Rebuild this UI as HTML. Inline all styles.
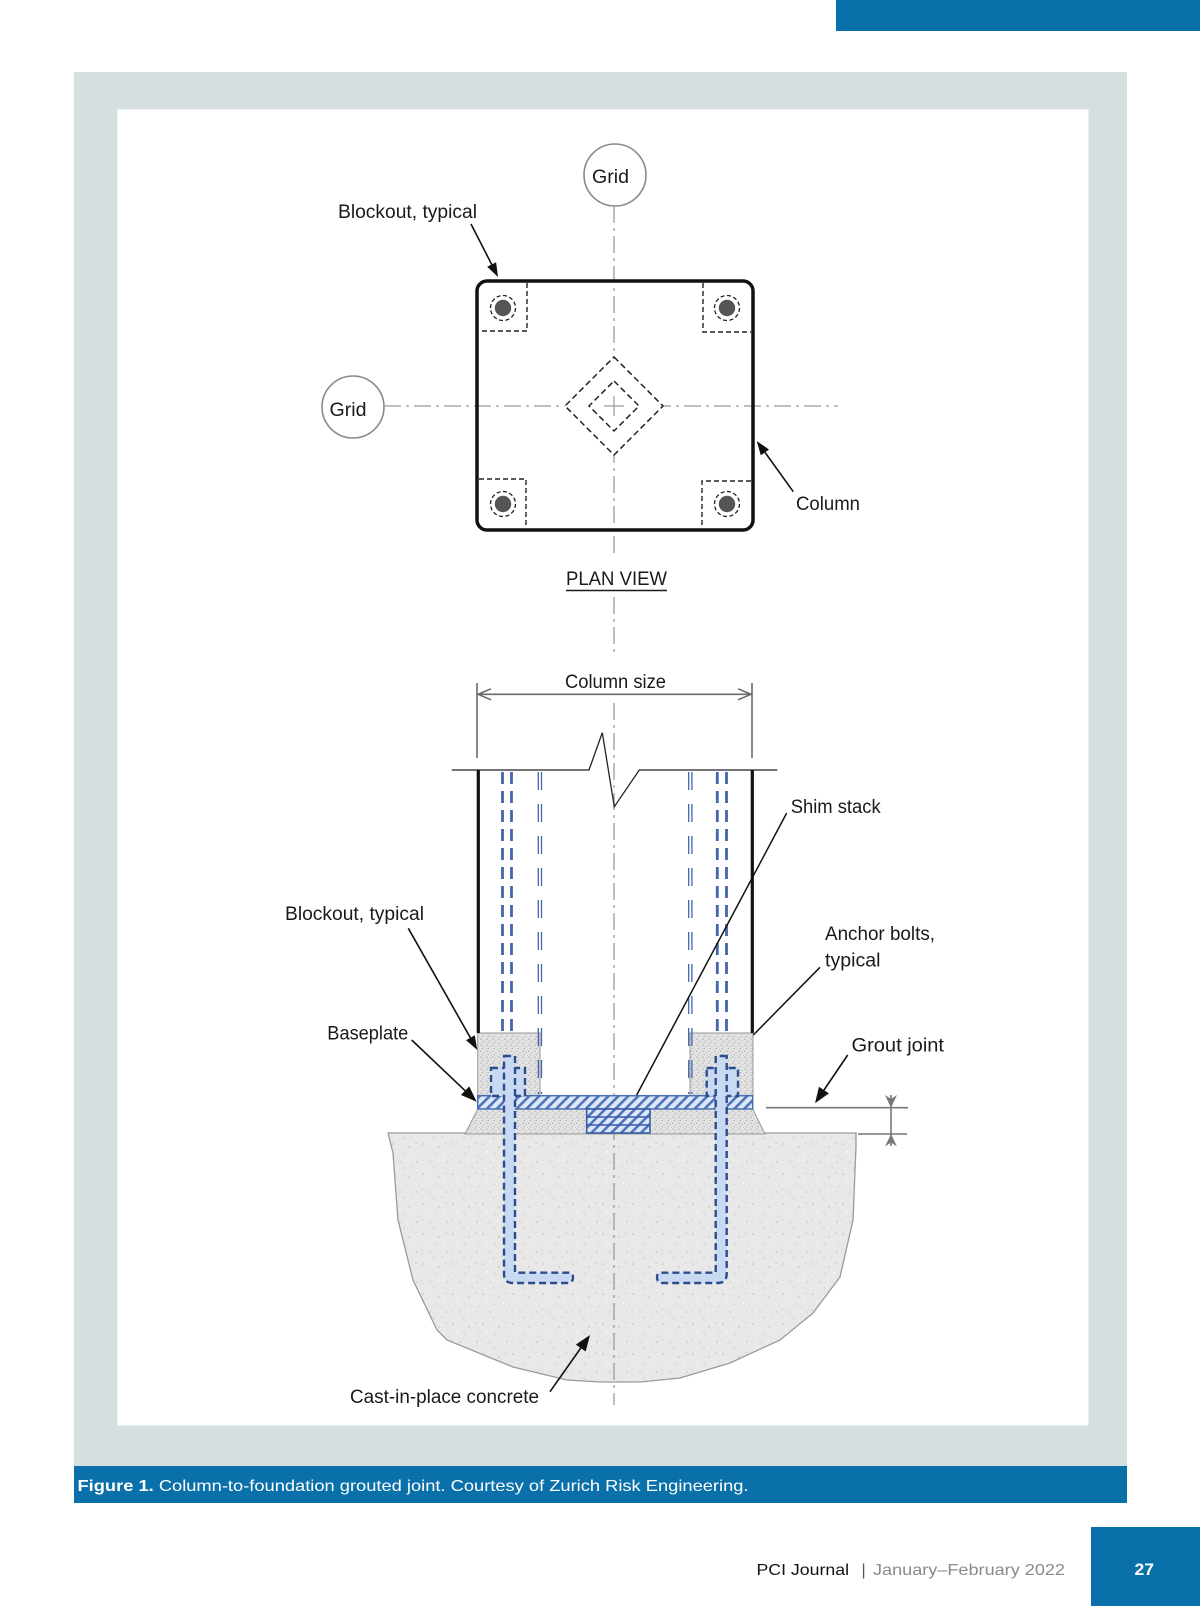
<!DOCTYPE html>
<html>
<head>
<meta charset="utf-8">
<style>
  html,body{margin:0;padding:0;background:#fff;}
  body{width:1200px;height:1606px;overflow:hidden;position:relative;}
  svg{position:absolute;left:0;top:0;}
  .lbl{font-family:"Liberation Sans",Arial,sans-serif;font-size:19px;fill:#1a1a1a;}
</style>
</head>
<body>
<svg width="1200" height="1606" viewBox="0 0 1200 1606" xmlns="http://www.w3.org/2000/svg">
  <defs>
    <pattern id="hatch" width="7" height="7" patternUnits="userSpaceOnUse" patternTransform="rotate(45)">
      <rect width="7" height="7" fill="#dde7f7"/>
      <rect x="0" y="0" width="2.6" height="7" fill="#4f74bb"/>
    </pattern>
    <pattern id="grout" width="6" height="6" patternUnits="userSpaceOnUse">
      <rect width="6" height="6" fill="#e4e4e4"/>
      <circle cx="1" cy="1.2" r="0.7" fill="#a8a8a8"/>
      <circle cx="4" cy="2.5" r="0.6" fill="#b4b4b4"/>
      <circle cx="2.2" cy="4.6" r="0.6" fill="#a0a0a0"/>
      <circle cx="5.2" cy="5.3" r="0.5" fill="#bdbdbd"/>
    </pattern>
    <pattern id="conc" width="30" height="30" patternUnits="userSpaceOnUse">
      <rect width="30" height="30" fill="#e8e8e8"/>
      <circle cx="3" cy="4" r="1.1" fill="#d2d2d2"/>
      <circle cx="11" cy="2" r="0.8" fill="#f4f4f4"/>
      <circle cx="19" cy="7" r="1.2" fill="#d6d6d6"/>
      <circle cx="26" cy="3" r="0.9" fill="#cfcfcf"/>
      <circle cx="7" cy="12" r="1.0" fill="#f5f5f5"/>
      <circle cx="15" cy="14" r="0.9" fill="#d0d0d0"/>
      <circle cx="24" cy="13" r="1.1" fill="#f2f2f2"/>
      <circle cx="2" cy="20" r="0.9" fill="#d4d4d4"/>
      <circle cx="10" cy="22" r="1.2" fill="#d8d8d8"/>
      <circle cx="18" cy="21" r="0.8" fill="#f3f3f3"/>
      <circle cx="27" cy="22" r="1.0" fill="#d1d1d1"/>
      <circle cx="6" cy="28" r="0.8" fill="#f1f1f1"/>
      <circle cx="14" cy="28" r="1.0" fill="#d3d3d3"/>
      <circle cx="22" cy="27" r="0.9" fill="#d9d9d9"/>
      <circle cx="29" cy="16" r="0.8" fill="#dadada"/>
    </pattern>
  </defs>

  <!-- top blue bar -->
  <rect x="836" y="0" width="364" height="31" fill="#0a70aa"/>

  <!-- grey panel and white inner -->
  <rect x="74" y="72" width="1053" height="1394" fill="#d6dfdf"/>
  <rect x="117.5" y="109.5" width="971" height="1316" fill="#ffffff"/>

  <!-- caption bar -->
  <rect x="74" y="1466" width="1053" height="37" fill="#0a70aa"/>
  <text x="77.5" y="1491" font-family="'Liberation Sans',Arial,sans-serif" font-size="16" fill="#ffffff" textLength="671" lengthAdjust="spacingAndGlyphs"><tspan font-weight="bold">Figure 1.</tspan> Column-to-foundation grouted joint. Courtesy of Zurich Risk Engineering.</text>

  <!-- footer -->
  <rect x="1091" y="1527" width="109" height="79" fill="#0a70aa"/>
  <text x="1134.5" y="1575" font-family="'Liberation Sans',Arial,sans-serif" font-size="17" font-weight="bold" fill="#ffffff" textLength="19.5" lengthAdjust="spacingAndGlyphs">27</text>
  <text x="756.5" y="1575" font-family="'Liberation Sans',Arial,sans-serif" font-size="16" fill="#111" textLength="92.5" lengthAdjust="spacingAndGlyphs">PCI Journal</text>
  <text x="861.5" y="1575" font-family="'Liberation Sans',Arial,sans-serif" font-size="16" fill="#555">|</text>
  <text x="873" y="1575" font-family="'Liberation Sans',Arial,sans-serif" font-size="16" fill="#8a8a8a" textLength="192" lengthAdjust="spacingAndGlyphs">January–February 2022</text>

  <!-- ================= PLAN VIEW ================= -->
  <!-- grid circles -->
  <circle cx="615" cy="175" r="31" fill="#fff" stroke="#8a8a8a" stroke-width="1.6"/>
  <text class="lbl" x="592" y="183" textLength="37" lengthAdjust="spacingAndGlyphs">Grid</text>
  <circle cx="353" cy="407" r="31" fill="#fff" stroke="#8a8a8a" stroke-width="1.6"/>
  <text class="lbl" x="329.5" y="416" textLength="37" lengthAdjust="spacingAndGlyphs">Grid</text>

  <!-- grid lines -->
  <g stroke="#9a9a9a" stroke-width="1.3" stroke-dasharray="17 5 3 5" fill="none">
    <line x1="614" y1="206" x2="614" y2="557"/>
    <line x1="614" y1="597" x2="614" y2="653"/>
    <line x1="384" y1="406" x2="838" y2="406"/>
  </g>

  <!-- column outline -->
  <rect x="477" y="281" width="276" height="249" rx="10" ry="10" fill="none" stroke="#111" stroke-width="3.5"/>

  <!-- blockouts -->
  <g stroke="#222" stroke-width="1.4" stroke-dasharray="5 3" fill="none">
    <polyline points="527,283 527,331 479,331"/>
    <polyline points="703,283 703,332 751,332"/>
    <polyline points="479,479 526,479 526,528"/>
    <polyline points="751,481 702,481 702,528"/>
  </g>
  <!-- bolts -->
  <g>
    <circle cx="503" cy="308" r="8.2" fill="#555"/>
    <circle cx="503" cy="308" r="12.5" fill="none" stroke="#222" stroke-width="1.3" stroke-dasharray="4 2.5"/>
    <circle cx="727" cy="308" r="8.2" fill="#555"/>
    <circle cx="727" cy="308" r="12.5" fill="none" stroke="#222" stroke-width="1.3" stroke-dasharray="4 2.5"/>
    <circle cx="503" cy="504" r="8.2" fill="#555"/>
    <circle cx="503" cy="504" r="12.5" fill="none" stroke="#222" stroke-width="1.3" stroke-dasharray="4 2.5"/>
    <circle cx="727" cy="504" r="8.2" fill="#555"/>
    <circle cx="727" cy="504" r="12.5" fill="none" stroke="#222" stroke-width="1.3" stroke-dasharray="4 2.5"/>
  </g>

  <!-- diamonds -->
  <polygon points="614,357 663,406 614,455 565,406" fill="#fff" stroke="#222" stroke-width="1.5" stroke-dasharray="6 3.5"/>
  <polygon points="614,381 639,406 614,431 589,406" fill="#fff" stroke="#222" stroke-width="1.5" stroke-dasharray="6 3.5"/>
  <g stroke="#9a9a9a" stroke-width="1.2">
    <line x1="604" y1="406" x2="624" y2="406"/>
    <line x1="614" y1="396" x2="614" y2="416"/>
  </g>

  <!-- plan labels -->
  <text class="lbl" x="338" y="218" textLength="139" lengthAdjust="spacingAndGlyphs">Blockout, typical</text>
  <line x1="471" y1="224" x2="492" y2="265" stroke="#111" stroke-width="1.6"/>
  <polygon points="498,277 487.2,266.8 496.1,262.2" fill="#111"/>

  <text class="lbl" x="796" y="510" textLength="64" lengthAdjust="spacingAndGlyphs">Column</text>
  <line x1="793.3" y1="491.7" x2="765" y2="452.4" stroke="#111" stroke-width="1.6"/>
  <polygon points="756.7,441 769,449.5 760.8,455.3" fill="#111"/>

  <text class="lbl" x="566" y="585" font-size="18.5" textLength="101" lengthAdjust="spacingAndGlyphs">PLAN VIEW</text>
  <line x1="566" y1="590.5" x2="667" y2="590.5" stroke="#1a1a1a" stroke-width="1.5"/>

  <!-- ================= SECTION ================= -->
  <!-- dimension -->
  <text class="lbl" x="565" y="688" textLength="101" lengthAdjust="spacingAndGlyphs">Column size</text>
  <g stroke="#6a6a6a" stroke-width="1.6" fill="none">
    <line x1="477" y1="683" x2="477" y2="758"/>
    <line x1="752" y1="683" x2="752" y2="758"/>
    <line x1="478" y1="694.3" x2="751" y2="694.3"/>
    <polyline points="491,688.8 478,694.3 491,699.8"/>
    <polyline points="738,688.8 751,694.3 738,699.8"/>
  </g>

  <!-- concrete -->
  <path d="M388,1133 L856,1133 L856,1147 L853,1220 L840,1277 L813,1313 L780,1340 L730,1363 L680,1378 L640,1382 L600,1382 L567,1380 L513,1367 L447,1340 L437,1330 L413,1280 L398,1220 L393,1153 Z" fill="url(#conc)" stroke="#9a9a9a" stroke-width="1.3"/>

  <!-- lower grout -->
  <path d="M477.7,1109 L752.7,1109 L765,1134 L465,1134 Z" fill="url(#grout)" stroke="#9a9a9a" stroke-width="1"/>
  <!-- blockout grout blocks -->
  <rect x="477.7" y="1033" width="62.3" height="63" fill="url(#grout)" stroke="#9a9a9a" stroke-width="1"/>
  <rect x="690" y="1033" width="63" height="63" fill="url(#grout)" stroke="#9a9a9a" stroke-width="1"/>

  <!-- grid line in section -->
  <line x1="614" y1="703" x2="614" y2="1405" stroke="#9a9a9a" stroke-width="1.3" stroke-dasharray="17 5 3 5"/>

  <!-- baseplate -->
  <rect x="477.7" y="1095.7" width="275" height="13.3" fill="url(#hatch)" stroke="#4a6fb0" stroke-width="1.5"/>
  <!-- shim stack -->
  <rect x="586.7" y="1109" width="63.3" height="24" fill="url(#hatch)" stroke="#3a5ca8" stroke-width="1.6"/>
  <line x1="586.7" y1="1117" x2="650" y2="1117" stroke="#3a5ca8" stroke-width="1.4"/>
  <line x1="586.7" y1="1125" x2="650" y2="1125" stroke="#3a5ca8" stroke-width="1.4"/>

  <!-- break line -->
  <polyline points="451.7,770 589,770 602.3,732.7 614.3,806.7 639.3,770 777.3,770" fill="none" stroke="#222" stroke-width="1.3"/>

  <!-- column walls -->
  <line x1="478.3" y1="770" x2="478.3" y2="1033" stroke="#111" stroke-width="3.2"/>
  <line x1="752.3" y1="770" x2="752.3" y2="1033" stroke="#111" stroke-width="3.2"/>

  <!-- blue reinforcement lines -->
  <g stroke="#4565ad" fill="none">
    <g stroke-width="2.8" stroke-dasharray="12 7">
      <line x1="502.5" y1="772" x2="502.5" y2="1033"/>
      <line x1="511.5" y1="772" x2="511.5" y2="1033"/>
      <line x1="717.3" y1="772" x2="717.3" y2="1033"/>
      <line x1="726.5" y1="772" x2="726.5" y2="1033"/>
    </g>
    <g stroke-width="1.3" stroke-dasharray="18 14">
      <line x1="538.3" y1="772" x2="538.3" y2="1094"/>
      <line x1="541.5" y1="772" x2="541.5" y2="1094"/>
      <line x1="688.7" y1="772" x2="688.7" y2="1094"/>
      <line x1="691.9" y1="772" x2="691.9" y2="1094"/>
    </g>
  </g>

  <!-- anchor bolts -->
  <g fill="#c9d9f2" stroke="#2c4d8c" stroke-width="2.4" stroke-dasharray="7 4">
    <rect x="491" y="1068" width="34" height="28"/>
    <rect x="706.7" y="1068" width="31.3" height="28"/>
    <path d="M504,1056 L515,1056 L515,1272.7 L569,1272.7 Q573,1272.7 573,1277.5 Q573,1283 567,1283 L513,1283 Q504,1283 504,1274 Z"/>
    <path d="M726.7,1056 L715.7,1056 L715.7,1272.7 L661,1272.7 Q657,1272.7 657,1277.5 Q657,1283 663,1283 L717.7,1283 Q726.7,1283 726.7,1274 Z"/>
  </g>

  <!-- grout joint dimension -->
  <g stroke="#777" stroke-width="1.6">
    <line x1="766" y1="1107.7" x2="908" y2="1107.7"/>
    <line x1="858" y1="1134" x2="907" y2="1134"/>
    <line x1="891" y1="1095" x2="891" y2="1146"/>
  </g>
  <polygon points="891,1107.7 885,1095 891,1099 897,1095" fill="#777"/>
  <polygon points="891,1134 885,1146.5 891,1142.5 897,1146.5" fill="#777"/>

  <!-- section labels -->
  <text class="lbl" x="790.7" y="813" textLength="90" lengthAdjust="spacingAndGlyphs">Shim stack</text>
  <line x1="786.7" y1="813" x2="636.7" y2="1095" stroke="#111" stroke-width="1.5"/>

  <text class="lbl" x="285" y="920" textLength="139" lengthAdjust="spacingAndGlyphs">Blockout, typical</text>
  <line x1="408.3" y1="928.3" x2="470.4" y2="1037.8" stroke="#111" stroke-width="1.6"/>
  <polygon points="477.3,1050 466.05,1040.3 474.75,1035.3" fill="#111"/>

  <text class="lbl" x="825" y="940" textLength="110" lengthAdjust="spacingAndGlyphs">Anchor bolts,</text>
  <text class="lbl" x="825" y="966.7" textLength="55.5" lengthAdjust="spacingAndGlyphs">typical</text>
  <line x1="820" y1="967.3" x2="753.3" y2="1035" stroke="#111" stroke-width="1.5"/>

  <text class="lbl" x="327.3" y="1039.3" textLength="81" lengthAdjust="spacingAndGlyphs">Baseplate</text>
  <line x1="411.7" y1="1040" x2="465.1" y2="1090.7" stroke="#111" stroke-width="1.6"/>
  <polygon points="476.7,1101.7 460.97,1095.05 469.23,1086.35" fill="#111"/>

  <text class="lbl" x="851.5" y="1051.7" textLength="92.5" lengthAdjust="spacingAndGlyphs">Grout joint</text>
  <line x1="847.7" y1="1055" x2="824" y2="1090" stroke="#111" stroke-width="1.6"/>
  <polygon points="815,1103.3 819,1086.7 828.95,1093.4" fill="#111"/>

  <text class="lbl" x="350" y="1403" textLength="189" lengthAdjust="spacingAndGlyphs">Cast-in-place concrete</text>
  <line x1="550" y1="1391.7" x2="580.8" y2="1348" stroke="#111" stroke-width="1.6"/>
  <polygon points="590,1335 585.68,1351.53 575.88,1344.61" fill="#111"/>
</svg>
</body>
</html>
